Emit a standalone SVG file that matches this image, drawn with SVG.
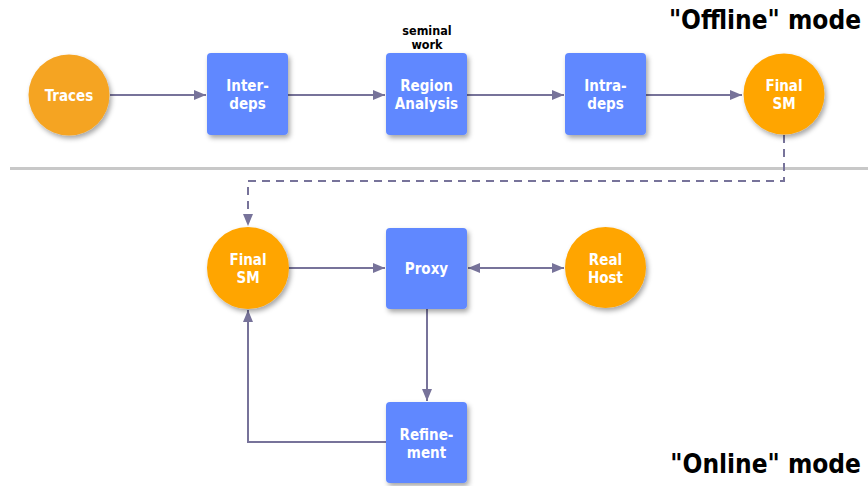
<svg xmlns="http://www.w3.org/2000/svg" width="868" height="486" viewBox="0 0 868 486">
  <style>
    .box { fill: #6088ff; }
    .orb { fill: #ffa500; }
    .lbl { fill: #ffffff; font-family: "DejaVu Sans Condensed", "DejaVu Sans", "Liberation Sans", sans-serif; font-stretch: condensed; font-weight: bold; font-size: 15px; text-anchor: middle; }
    .note { fill: #000000; font-family: "DejaVu Sans Condensed", "DejaVu Sans", "Liberation Sans", sans-serif; font-stretch: condensed; font-weight: bold; font-size: 12.5px; text-anchor: middle; }
    .mode { fill: #000000; font-family: "DejaVu Sans Condensed", "DejaVu Sans", "Liberation Sans", sans-serif; font-stretch: condensed; font-weight: bold; font-size: 26px; text-anchor: end; }
    .edge { fill: none; stroke: #77739a; stroke-width: 2; }
    .dash { stroke-dasharray: 8 6; }
  </style>
  <defs>
    <filter id="shadow" x="-30%" y="-30%" width="170%" height="170%">
      <feDropShadow dx="2" dy="3" stdDeviation="2.5" flood-color="#000" flood-opacity="0.35"/>
    </filter>
    <marker id="head" markerUnits="userSpaceOnUse" markerWidth="13" markerHeight="11" refX="12" refY="5" orient="auto-start-reverse">
      <path d="M0,0 L12,5 L0,10 z" fill="#77739a"/>
    </marker>
  </defs>

  <rect width="868" height="486" fill="#ffffff"/>

  <!-- separator between the two modes -->
  <line x1="10" y1="168.5" x2="868" y2="168.5" stroke="#c8c8c8" stroke-width="3"/>

  <text class="mode" x="861" y="29">"Offline" mode</text>
  <text class="mode" x="861" y="473">"Online" mode</text>

  <g id="connectors">
    <path class="edge" d="M110,95 H206" marker-end="url(#head)"/>
    <path class="edge" d="M288,95 H385" marker-end="url(#head)"/>
    <path class="edge" d="M467,95 H564" marker-end="url(#head)"/>
    <path class="edge" d="M646,95 H742" marker-end="url(#head)"/>
    <path class="edge dash" d="M784,135 V181 H248 V226" marker-end="url(#head)"/>
    <path class="edge" d="M289,268 H385" marker-end="url(#head)"/>
    <path class="edge" d="M468,268 H564" marker-start="url(#head)" marker-end="url(#head)"/>
    <path class="edge" d="M427,309 V401" marker-end="url(#head)"/>
    <path class="edge" d="M386,442 H248 V310" marker-end="url(#head)"/>
  </g>

  <g id="traces">
    <circle class="orb" cx="69" cy="95" r="40.5" fill="#f5a422" style="fill:#f5a422" filter="url(#shadow)"/>
    <text class="lbl" x="69" y="100.5">Traces</text>
  </g>

  <g id="inter-deps">
    <rect class="box" x="207" y="53" width="81" height="82" rx="4" filter="url(#shadow)"/>
    <text class="lbl" x="247.5" y="91">Inter-</text>
    <text class="lbl" x="247.5" y="109">deps</text>
  </g>

  <g id="region-analysis">
    <text class="note" x="427" y="35">seminal</text>
    <text class="note" x="427" y="49">work</text>
    <rect class="box" x="386" y="53" width="81" height="82" rx="4" filter="url(#shadow)"/>
    <text class="lbl" x="426.5" y="91">Region</text>
    <text class="lbl" x="426.5" y="109">Analysis</text>
  </g>

  <g id="intra-deps">
    <rect class="box" x="565" y="53" width="81" height="82" rx="4" filter="url(#shadow)"/>
    <text class="lbl" x="605.5" y="91">Intra-</text>
    <text class="lbl" x="605.5" y="109">deps</text>
  </g>

  <g id="final-sm-offline">
    <circle class="orb" cx="784" cy="94" r="40.5" filter="url(#shadow)"/>
    <text class="lbl" x="784" y="91">Final</text>
    <text class="lbl" x="784" y="109">SM</text>
  </g>

  <g id="final-sm-online">
    <circle class="orb" cx="248" cy="268" r="41" filter="url(#shadow)"/>
    <text class="lbl" x="248" y="264.5">Final</text>
    <text class="lbl" x="248" y="283">SM</text>
  </g>

  <g id="proxy">
    <rect class="box" x="386" y="228" width="81" height="81" rx="4" filter="url(#shadow)"/>
    <text class="lbl" x="426.5" y="274">Proxy</text>
  </g>

  <g id="real-host">
    <circle class="orb" cx="605.5" cy="267.5" r="40.5" filter="url(#shadow)"/>
    <text class="lbl" x="605.5" y="265">Real</text>
    <text class="lbl" x="605.5" y="283">Host</text>
  </g>

  <g id="refinement">
    <rect class="box" x="386" y="402" width="81" height="81" rx="4" filter="url(#shadow)"/>
    <text class="lbl" x="426.5" y="440">Refine-</text>
    <text class="lbl" x="426.5" y="458">ment</text>
  </g>
</svg>
